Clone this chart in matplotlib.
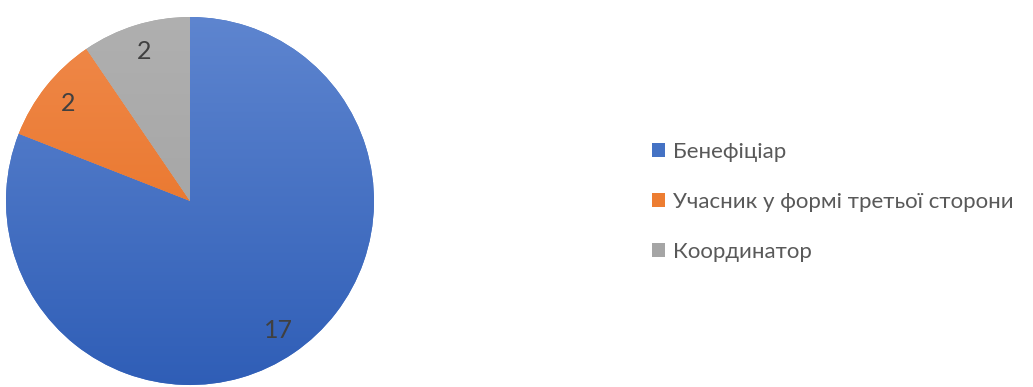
import numpy as np
import matplotlib.pyplot as plt
from matplotlib.colors import LinearSegmentedColormap

plt.rcParams['font.family'] = ['Lato', 'DejaVu Sans']

labels = ['Бенефіціар', 'Учасник у формі третьої сторони', 'Координатор']
values = [17, 2, 2]
colors = ['#4472C4', '#ED7D31', '#A5A5A5']
# top / bottom shades for the office-style gradient fill
shades = [('#5F86D0', '#2E5DB6'), ('#F08A4C', '#E56A18'), ('#B0B0B0', '#9E9E9E')]

fig = plt.figure(figsize=(10.33, 3.87), dpi=100)
ax = fig.add_axes([6 / 1033, 2 / 387, 368 / 1033, 368 / 387])

wedges, texts, autotexts = ax.pie(values, colors=colors, startangle=90, counterclock=False,
                                  autopct=lambda p: '%d' % round(p * sum(values) / 100),
                                  pctdistance=0.85, textprops={'fontsize': 18, 'color': '#404040'})

# gradient fill clipped to each wedge
grad = np.linspace(0, 1, 256).reshape(-1, 1)
for w, (top, bot) in zip(wedges, shades):
    cmap = LinearSegmentedColormap.from_list('g', [top, bot])
    im = ax.imshow(grad, cmap=cmap, extent=[-1.05, 1.05, -1.05, 1.05], aspect='auto', zorder=w.get_zorder())
    im.set_clip_path(w)
for t in autotexts:
    t.set_zorder(5)

ax.set_xlim(-1.0, 1.0)
ax.set_ylim(-1.0, 1.0)
ax.set_aspect('equal')
ax.axis('off')

fig.legend(wedges, labels, loc='center left', bbox_to_anchor=(652 / 1033, 1 - 202 / 387),
           frameon=False, fontsize=16, labelcolor='#595959', handlelength=0.6, handleheight=0.6,
           handletextpad=0.35, labelspacing=1.35, borderpad=0, borderaxespad=0)

fig.savefig('out.png', dpi=100)
